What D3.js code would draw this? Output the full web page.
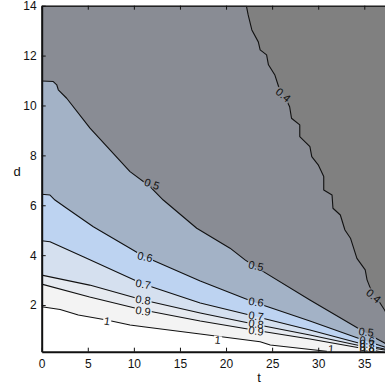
<!DOCTYPE html>
<html><head><meta charset="utf-8">
<script src="https://cdn.jsdelivr.net/npm/d3@7"></script>
<style>
html,body{margin:0;padding:0;background:#fff;}
svg{display:block;font-family:"Liberation Sans",Arial,Helvetica,sans-serif;}
</style></head><body>
<svg id="chart" width="385" height="389"></svg>
<script>
// Axis ticks
const tTicks = [0, 5, 10, 15, 20, 25, 30, 35];
const dTicks = [2, 4, 6, 8, 10, 12, 14];

// Contour levels and the fill of the band above each one (first entry: below 0.4)
const levels = [0.4, 0.5, 0.6, 0.7, 0.8, 0.9, 1];
const bandColors = ["#808080", "#898c94", "#a3b2c6", "#bdd3f1", "#d5e0ef", "#e6eaf0", "#f3f3f3", "#ffffff"];

// Iso-lines, [t, d] pairs
const iso04 = [[22.2,14.0],[22.4,13.63],[22.8,13.03],[23.5,12.55],[23.7,12.23],[24.4,12.03],[24.6,11.63],[25.3,11.22],[25.7,10.76],[26.4,10.34],[26.9,9.95],[27.1,9.49],[28.0,9.22],[28.0,8.75],[29.1,8.35],[29.3,7.95],[30.0,7.62],[30.6,7.15],[30.6,6.61],[31.5,6.41],[31.6,5.88],[32.4,5.61],[32.9,5.01],[33.5,4.68],[34.2,3.87],[35.1,3.41],[35.3,3.01],[35.8,2.54],[36.5,2.2],[37.2,1.8],[38.3,1.0]];
const iso05 = [[0,10.98],[1.26,10.96],[1.63,10.83],[1.8,10.63],[2.71,10.29],[5.24,9.09],[7.41,8.22],[9.58,7.35],[11.75,6.75],[13.19,6.21],[16.82,5.08],[20.43,4.28],[22.06,3.81],[23.03,3.57],[29.1,2.2],[35.2,0.88],[37.2,0.48],[38.3,0.2]];
const iso06 = [[0,6.44],[0.9,6.41],[1.44,6.21],[2.71,5.88],[5.6,5.14],[9.58,4.28],[11.0,3.97],[17.2,2.96],[23.0,2.12],[29.1,1.36],[35.2,0.56],[37.2,0.32],[38.3,0.1]];
const iso07 = [[0,4.58],[0.9,4.54],[4.51,3.94],[11.0,2.84],[17.2,2.08],[23.0,1.56],[29.1,1.0],[35.2,0.4],[37.2,0.24],[38.3,0.05]];
const iso08 = [[0,3.2],[5.2,2.8],[11.0,2.2],[17.2,1.68],[23.0,1.24],[29.1,0.8],[35.2,0.32],[37.2,0.2],[38.3,0.0]];
const iso09 = [[0,2.84],[5.2,2.32],[11.0,1.8],[17.2,1.36],[23.0,1.0],[29.1,0.64],[35.2,0.24],[37.2,0.1],[38.3,-0.1]];
const iso10 = [[0,1.93],[1.09,1.87],[2.0,1.82],[3.97,1.6],[7.05,1.4],[9.58,1.2],[11.02,1.13],[17.2,0.84],[23.7,0.53],[24.8,0.4],[31.6,0.12],[32.9,0.0]];
const isoLines = [iso04, iso05, iso06, iso07, iso08, iso09, iso10];

// In-line contour labels: [level, t, d]
const contourLabels = [
  [0.4, 26.2, 10.42], [0.4, 36.0, 2.36],
  [0.5, 11.97, 6.85], [0.5, 23.25, 3.57], [0.5, 35.2, 0.92],
  [0.6, 11.2, 3.93], [0.6, 23.25, 2.12], [0.6, 35.3, 0.58],
  [0.7, 11.0, 2.84], [0.7, 23.25, 1.56], [0.7, 35.3, 0.44],
  [0.8, 11.0, 2.2], [0.8, 23.25, 1.24], [0.8, 35.3, 0.3],
  [0.9, 11.0, 1.76], [0.9, 23.25, 0.96], [0.9, 35.3, 0.16],
  [1, 7.1, 1.36], [1, 19.1, 0.6], [1, 31.4, 0.24]
];
const labelTilt = [40, 40, 18, 12, 6, 12, 8, 4, 10, 8, 4, 8, 8, 4, 8, 8, 4, 8, 6, 4];

const W = 385, H = 389;
const svg = d3.select("#chart");

const x = d3.scaleLinear().domain([0, 38]).range([41.7, 41.7 + 38 * 9.217]);
const y = d3.scaleLinear().domain([0.13, 14]).range([351.7, 5.7]);
const [xL, xR] = x.range();
const [yB, yT] = y.range();

const defs = svg.append("defs");
defs.append("clipPath").attr("id", "plotClip")
  .append("rect").attr("x", xL).attr("y", yT).attr("width", W - xL).attr("height", yB - yT);

const plot = svg.append("g").attr("clip-path", "url(#plotClip)");

// background band (values below the lowest level)
plot.append("rect").attr("x", xL).attr("y", yT).attr("width", W - xL).attr("height", yB - yT)
  .attr("fill", bandColors[0]);

// region on the low-t / low-d side of every iso-line, painted in increasing order
const area = d3.line().x(p => x(p[0])).y(p => y(p[1]));
isoLines.forEach((pts, i) => {
  const first = pts[0], last = pts[pts.length - 1];
  const poly = [];
  if (first[1] >= 14) { poly.push([-2, 16], [first[0], 16]); }
  else { poly.push([-2, first[1]]); }
  poly.push(...pts);
  poly.push([last[0] + 3, -2], [-2, -2]);
  plot.append("path").attr("d", area(poly) + "Z").attr("fill", bandColors[i + 1]);
});

// labels (drawn first into their own group so their boxes can cut gaps in the lines)
const labelG = plot.append("g").attr("class", "clabels");
const fmt = v => (v === 1 ? "1" : d3.format(".1f")(v));
const labelNodes = contourLabels.map((l, i) => {
  const px = x(l[1]), py = y(l[2]);
  return labelG.append("text")
    .attr("transform", `translate(${px},${py}) rotate(${labelTilt[i]})`)
    .attr("text-anchor", "middle").attr("dy", "0.35em")
    .attr("font-size", 11).attr("fill", "#111")
    .text(fmt(l[0]));
});

const mask = defs.append("mask").attr("id", "labelGaps")
  .attr("maskUnits", "userSpaceOnUse").attr("x", 0).attr("y", 0).attr("width", W).attr("height", H);
mask.append("rect").attr("width", W).attr("height", H).attr("fill", "white");
labelNodes.forEach((t, i) => {
  const w = t.node().getComputedTextLength() + 2;
  const l = contourLabels[i];
  mask.append("rect")
    .attr("x", -w / 2).attr("y", -4).attr("width", w).attr("height", 8)
    .attr("transform", `translate(${x(l[1])},${y(l[2])}) rotate(${labelTilt[i]})`)
    .attr("fill", "black");
});

const linesG = plot.insert("g", ".clabels").attr("mask", "url(#labelGaps)");
isoLines.forEach(pts => {
  linesG.append("path").attr("d", area(pts)).attr("fill", "none")
    .attr("stroke", "#111").attr("stroke-width", 1.1).attr("stroke-linejoin", "round");
});

// axes
const axisStyle = g => {
  g.selectAll("text").attr("font-size", 12).attr("fill", "#111")
    .attr("font-family", '"Liberation Sans", Arial, Helvetica, sans-serif');
  g.selectAll(".tick line").attr("stroke", "#111");
};
svg.append("g").attr("transform", `translate(0,${yB})`)
  .call(d3.axisBottom(x).tickValues(tTicks).tickSize(-4).tickSizeOuter(0).tickPadding(8))
  .call(axisStyle)
  .call(g => g.select(".domain").attr("stroke", "#111").attr("stroke-width", 2));
svg.append("g").attr("transform", `translate(0,${yT})`)
  .call(d3.axisTop(x).tickValues(tTicks).tickSize(-4).tickSizeOuter(0).tickFormat(""))
  .call(axisStyle)
  .call(g => g.select(".domain").attr("stroke", "#222").attr("stroke-width", 1.6));
svg.append("g").attr("transform", `translate(${xL},0)`)
  .call(d3.axisLeft(y).tickValues(dTicks).tickSize(-4).tickSizeOuter(0).tickPadding(5))
  .call(axisStyle)
  .call(g => g.select(".domain").attr("stroke", "#111").attr("stroke-width", 2));

// axis titles
svg.append("text").attr("x", 259).attr("y", 382).attr("text-anchor", "middle")
  .attr("font-size", 13).attr("fill", "#111").text("t");
svg.append("text").attr("x", 17).attr("y", 176).attr("text-anchor", "middle")
  .attr("font-size", 13).attr("fill", "#111").text("d");
</script>
</body></html>
